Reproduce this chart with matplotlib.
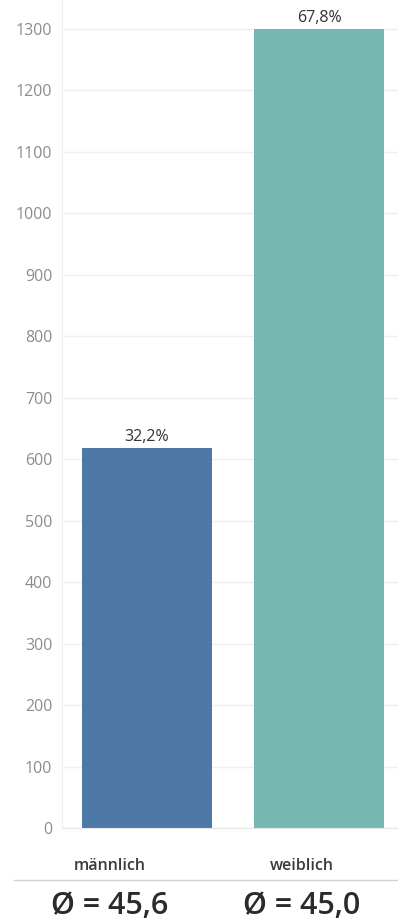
import matplotlib.pyplot as plt
from matplotlib.lines import Line2D

geschlecht = ['männlich', 'weiblich']
anzahl = [618, 1300]
anteil = ['32,2%', '67,8%']
alter_mittel = ['45,6', '45,0']
farben = ['#4e79a7', '#76b7b2']

plt.rcParams['font.family'] = ['Open Sans', 'DejaVu Sans']

fig = plt.figure(figsize=(3.98, 9.24), dpi=100)
ax = fig.add_axes([62/398, 96/924, 336/398, 828/924])

x = [0, 1]
balken = ax.bar(x, anzahl, width=0.756, color=farben)
for b, txt in zip(balken, anteil):
    ax.annotate(txt, (b.get_x() + b.get_width()/2, b.get_height()),
                xytext=(0, 2), textcoords='offset points',
                ha='center', va='bottom', fontsize=11.5, color='#333333')

ax.set_xlim(-0.494, 1.459)
ax.set_ylim(0, 1347)
ax.set_yticks(range(0, 1301, 100))
ax.set_xticks([])
ax.tick_params(axis='y', length=0, pad=7, labelsize=11.5, labelcolor='#8c8c8c')
ax.grid(axis='y', color='#efefef', linewidth=1)
ax.set_axisbelow(True)
for s in ['top', 'right']:
    ax.spines[s].set_visible(False)
ax.spines['left'].set_color('#f0f0f0')
ax.spines['bottom'].set_color('#e6e6e6')

# Kopfzeilen-Tabelle unter dem Diagramm: zwei gleich breite Spalten ab x=14px
links, rechts = 14/398, 1.0
spalte = (rechts - links) / len(geschlecht)
for i, (g, m) in enumerate(zip(geschlecht, alter_mittel)):
    xf = links + spalte * (i + 0.5)
    fig.text(xf, 1 - 866/924, g, ha='center', va='center', fontsize=11.5,
             fontweight='semibold', color='#3a3a3a')
    fig.text(xf, 1 - 906/924, 'Ø = ' + m, ha='center', va='center', fontsize=22,
             fontweight='semibold', color='#2b2b2b')

fig.add_artist(Line2D([links, rechts], [1 - 880/924] * 2, color='#cfcfcf', linewidth=1,
                      transform=fig.transFigure))

fig.savefig('out.png', dpi=100)
